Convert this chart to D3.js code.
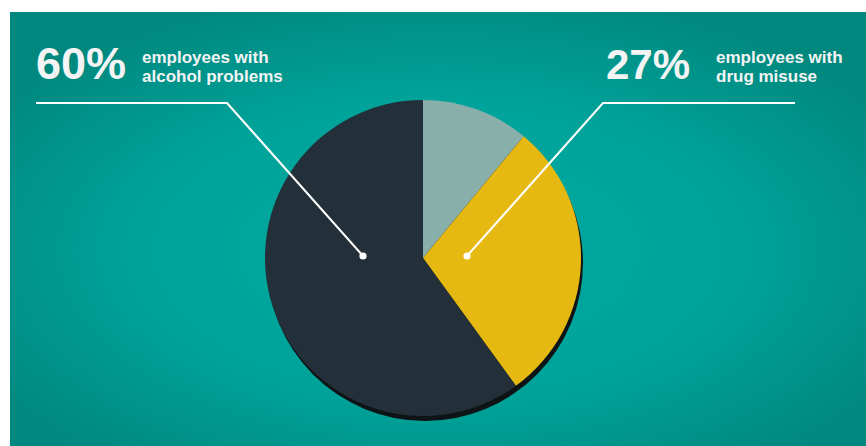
<!DOCTYPE html>
<html><head><meta charset="utf-8">
<script src="https://cdn.jsdelivr.net/npm/d3@7"></script>
<style>html,body{margin:0;padding:0;background:#fff;}svg{display:block;}</style>
</head><body>
<script>
const categories = ["Other", "Drug misuse", "Alcohol problems"];
const values = [11, 29, 60];
const colors = ["#88afa9", "#e5b812", "#243039"];
const labelBig = ["60%", "27%"];
const labelLine1 = ["employees with", "employees with"];
const labelLine2 = ["alcohol problems", "drug misuse"];

const W = 866, H = 446;
const svg = d3.select("body").append("svg").attr("width", W).attr("height", H);
const defs = svg.append("defs");
const rg = defs.append("radialGradient").attr("id","bg").attr("cx","50%").attr("cy","55%").attr("r","62%");
rg.append("stop").attr("offset","0%").attr("stop-color","#00a99f");
rg.append("stop").attr("offset","55%").attr("stop-color","#00a39a");
rg.append("stop").attr("offset","100%").attr("stop-color","#00887e");
svg.append("rect").attr("x",10).attr("y",12).attr("width",W-10).attr("height",H-12).attr("fill","url(#bg)");

const cx = 423, cy = 258, R = 158;
const pie = d3.pie().sort(null).value(d => d)(values);
const arc = d3.arc().innerRadius(0).outerRadius(R);

const g = svg.append("g").attr("transform", `translate(${cx},${cy})`);
g.append("circle").attr("cx", 2).attr("cy", 5).attr("r", R).attr("fill", "#0e1416");
g.selectAll("path.s").data(pie).join("path").attr("class","s")
  .attr("d", arc).attr("fill", (d,i) => colors[i]);

const leaders = [
  {pts: [[36,103],[227,103],[363,256]], tx: 36, big: labelBig[0], bigSize: 45, sx: 142, l1: labelLine1[0], l2: labelLine2[0]},
  {pts: [[795,103],[603,103],[467,256]], tx: 606, big: labelBig[1], bigSize: 42, sx: 716, l1: labelLine1[1], l2: labelLine2[1]}
];
leaders.forEach(L => {
  svg.append("path").attr("d", d3.line()(L.pts)).attr("fill","none").attr("stroke","#fff").attr("stroke-width",2);
  const e = L.pts[2];
  svg.append("circle").attr("cx", e[0]).attr("cy", e[1]).attr("r", 3.6).attr("fill","#fff");
  svg.append("text").attr("x", L.tx).attr("y", 79).attr("fill","#f4f4f4")
    .attr("font-family","'Liberation Sans', Arial, sans-serif").attr("font-size", L.bigSize).attr("font-weight", "bold").text(L.big);
  svg.append("text").attr("x", L.sx).attr("y", 63).attr("fill","#f4f4f4")
    .attr("font-family","'Liberation Sans', Arial, sans-serif").attr("font-size", 17).attr("font-weight","bold").text(L.l1);
  svg.append("text").attr("x", L.sx).attr("y", 82).attr("fill","#f4f4f4")
    .attr("font-family","'Liberation Sans', Arial, sans-serif").attr("font-size", 17).attr("font-weight","bold").text(L.l2);
});
</script>
</body></html>
